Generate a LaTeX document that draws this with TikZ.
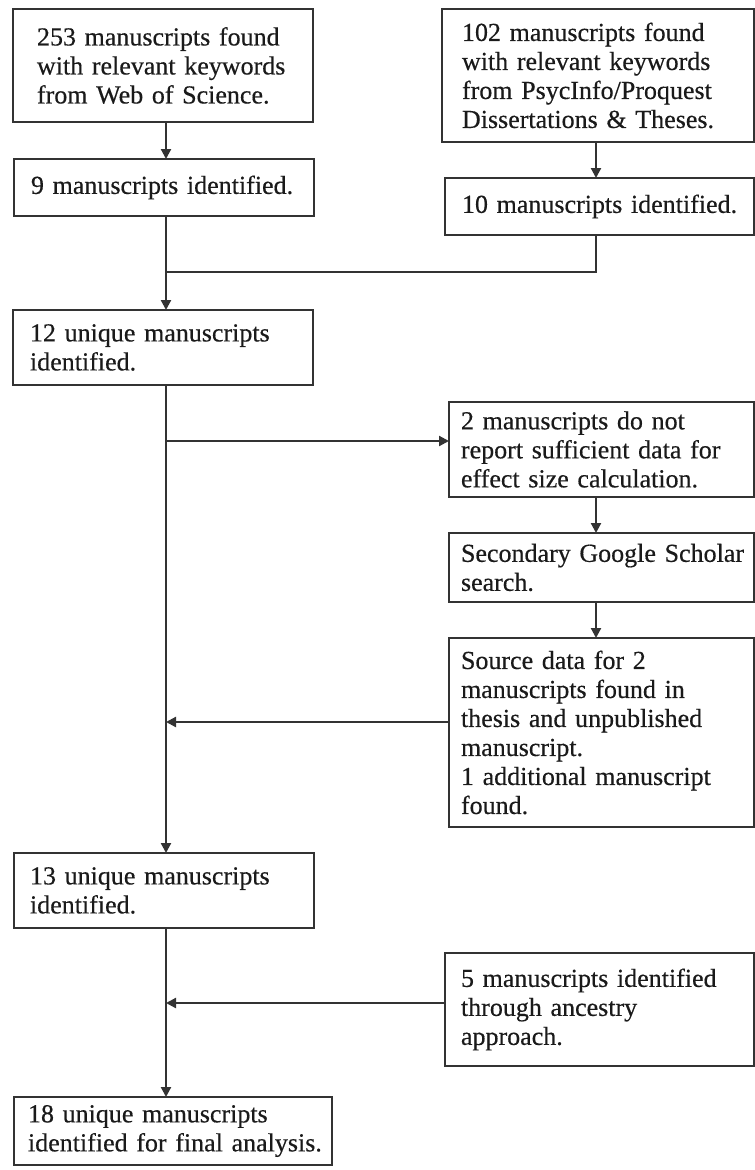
\documentclass[tikz,border=0pt]{standalone}
\usepackage{fontspec}
\setmainfont[WordSpace=0.85,FakeBold=0.4]{Liberation Serif}
\usetikzlibrary{arrows.meta}
\definecolor{ln}{HTML}{333333}
\definecolor{tx}{HTML}{1A1A1A}
\newcommand\ml[1]{\mbox{#1}}
\tikzset{
  box/.style n args={4}{draw=ln, line width=2.2pt, anchor=north west, outer sep=0pt,
    inner ysep=0pt, inner xsep=#3pt, minimum width=#1pt, minimum height=#2pt,
    text width=#4pt, align=left, text=tx,
    font=\fontsize{26}{29}\selectfont},
  conn/.style={draw=ln, line width=2.2pt},
  arr/.style={conn, -{Triangle[length=10pt,width=10pt]}},
}
\begin{document}
\begin{tikzpicture}[x=1pt,y=-1pt]
\useasboundingbox (0,0) rectangle (755,1170);
\fill[white] (0,0) rectangle (755,1170);
\node[box={300}{113}{24}{252}] (A) at (13,9) {\ml{253 manuscripts found}\\\ml{with relevant keywords}\\\ml{from Web of Science.}};
\node[box={300}{57}{17}{266}] (B) at (14,159) {\ml{9 manuscripts identified.}};
\node[box={312}{133}{20}{272}] (C) at (442,9) {\ml{102 manuscripts found}\\\ml{with relevant keywords}\\\ml{from PsycInfo/Proquest}\\\ml{Dissertations \& Theses.}};
\node[box={309}{57}{17}{275}] (D) at (445,178) {\ml{10 manuscripts identified.}};
\node[box={300}{75}{17}{266}] (E) at (13,310) {\ml{12 unique manuscripts}\\\ml{identified.}};
\node[box={305}{95}{12}{281}] (F) at (449,402) {\ml{2 manuscripts do not}\\\ml{report sufficient data for}\\\ml{effect size calculation.}};
\node[box={305}{69}{12}{281}] (G) at (449,533) {\ml{Secondary Google Scholar}\\\ml{search.}};
\node[box={305}{189}{12}{281}] (H) at (449,638) {\ml{Source data for 2}\\\ml{manuscripts found in}\\\ml{thesis and unpublished}\\\ml{manuscript.}\\\ml{1 additional manuscript}\\\ml{found.}};
\node[box={300}{75}{16}{268}] (I) at (14,853) {\ml{13 unique manuscripts}\\\ml{identified.}};
\node[box={309}{113}{16}{277}] (J) at (445,953) {\ml{5 manuscripts identified}\\\ml{through ancestry}\\\ml{approach.}};
\node[box={318}{68}{14}{290}] (K) at (14,1097) {\ml{18 unique manuscripts}\\\ml{identified for final analysis.}};

\coordinate (tx) at (166,0);
\coordinate (rx) at (596,0);
\coordinate (j1) at (166,272);
\coordinate (j2) at (166,441);
\coordinate (j3) at (166,722);
\coordinate (j4) at (166,1003);

\draw[arr] (A.south -| tx) -- (B.north -| tx);
\draw[arr] (C.south -| rx) -- (D.north -| rx);
\draw[conn] (D.south -| rx) |- (j1);
\draw[arr] (B.south -| tx) -- (E.north -| tx);
\draw[arr] (E.south -| tx) -- (I.north -| tx);
\draw[arr] (j2) -- (F.west |- j2);
\draw[arr] (F.south -| rx) -- (G.north -| rx);
\draw[arr] (G.south -| rx) -- (H.north -| rx);
\draw[arr] (H.west |- j3) -- (j3);
\draw[arr] (I.south -| tx) -- (K.north -| tx);
\draw[arr] (J.west |- j4) -- (j4);
\end{tikzpicture}
\end{document}
